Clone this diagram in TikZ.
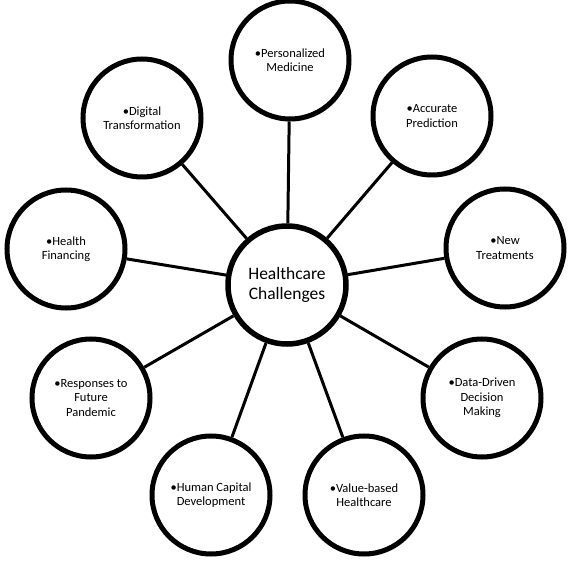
\documentclass[tikz,border=0pt]{standalone}
\usepackage{fontspec}
\setmainfont{Carlito}
\usetikzlibrary{shadows}

\begin{document}
\begin{tikzpicture}[x=1pt, y=-1pt,
    topic/.style={circle, draw, line width=5pt, fill=white, minimum size=118pt,
      inner sep=0pt, align=center, font=\fontsize{12.5}{14.5}\selectfont,
      drop shadow={opacity=0.25, shadow xshift=1.5pt, shadow yshift=-2.5pt}},
    hubnode/.style={topic, line width=5.5pt, minimum size=118pt,
      font=\fontsize{17.5}{20.5}\selectfont},
    link/.style={line width=3pt}]
  \useasboundingbox (0,0) rectangle (571,564);
  % outer ring of challenges
  \node[topic] (pers) at (290,60) {•Personalized\\Medicine};
  \node[topic] (digi) at (142,118) {•Digital\\Transformation};
  \node[topic] (accu) at (432,116) {•Accurate\\Prediction};
  \node[topic] (fina) at (66,249) {•Health\\Financing};
  \node[topic] (newt) at (505,248) {•New\\Treatments};
  \node[topic] (resp) at (91,398) {•Responses to\\Future\\Pandemic};
  \node[topic] (data) at (482,398) {•Data-Driven\\Decision\\Making};
  \node[topic] (huma) at (211,495) {•Human Capital\\Development};
  \node[topic] (valu) at (364,495) {•Value-based\\Healthcare};
  % centre
  \node[hubnode] (hub) at (287,285) {Healthcare\\Challenges};
  % spokes
  \draw[link] (hub) -- (pers);
  \draw[link] (hub) -- (digi);
  \draw[link] (hub) -- (accu);
  \draw[link] (hub) -- (fina);
  \draw[link] (hub) -- (newt);
  \draw[link] (hub) -- (resp);
  \draw[link] (hub) -- (data);
  \draw[link] (hub) -- (huma);
  \draw[link] (hub) -- (valu);
\end{tikzpicture}
\end{document}
